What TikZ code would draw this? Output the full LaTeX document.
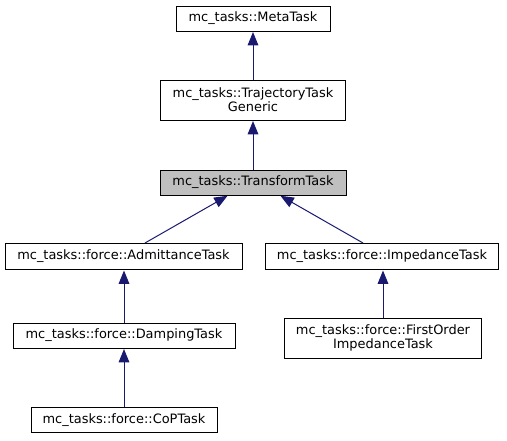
\documentclass[tikz,border=0pt]{standalone}
\usepackage{fontspec}
\setmainfont{DejaVu Sans}
\usetikzlibrary{arrows.meta}
\definecolor{edgeblue}{RGB}{25,25,112}
\definecolor{curgray}{RGB}{191,191,191}
\tikzset{
  cls/.style={draw=black, line width=0.75pt, inner sep=0pt, align=center,
    font=\fontsize{9.7}{10.7}\selectfont},
  inherit/.style={draw=edgeblue, line width=0.75pt,
    -{Triangle[length=10pt,width=8pt]}, shorten >=0.4pt}
}
\begin{document}
\begin{tikzpicture}[x=0.75pt,y=-0.75pt]
\useasboundingbox (0,0) rectangle (507,440);
\node[cls, minimum width=115.5pt, minimum height=18.75pt] (meta) at (253,18.5) {mc\_tasks::MetaTask};
\node[cls, minimum width=138.75pt, minimum height=30pt] (traj) at (253,100) {mc\_tasks::TrajectoryTask\\Generic};
\node[cls, fill=curgray, minimum width=139.5pt, minimum height=18.75pt] (transform) at (253,182.5) {mc\_tasks::TransformTask};
\node[cls, minimum width=177.75pt, minimum height=19.5pt] (admit) at (123.5,256.5) {mc\_tasks::force::AdmittanceTask};
\node[cls, minimum width=174.75pt, minimum height=19.5pt] (imped) at (382,256.5) {mc\_tasks::force::ImpedanceTask};
\node[cls, minimum width=166.5pt, minimum height=18.75pt] (damping) at (124,335.5) {mc\_tasks::force::DampingTask};
\node[cls, minimum width=147.75pt, minimum height=30pt] (firstorder) at (383,338) {mc\_tasks::force::FirstOrder\\ImpedanceTask};
\node[cls, minimum width=139.5pt, minimum height=18.75pt] (cop) at (124,420) {mc\_tasks::force::CoPTask};
\draw[inherit] (traj) -- (meta);
\draw[inherit] (transform) -- (traj);
\draw[inherit] ([xshift=16.1pt]admit.north) -- ([xshift=-18.75pt]transform.south);
\draw[inherit] ([xshift=-14.25pt]imped.north) -- ([xshift=20.25pt]transform.south);
\draw[inherit] (damping.north) -- (damping.north |- admit.south);
\draw[inherit] (cop) -- (damping);
\draw[inherit] (firstorder.north) -- (firstorder.north |- imped.south);
\end{tikzpicture}
\end{document}
